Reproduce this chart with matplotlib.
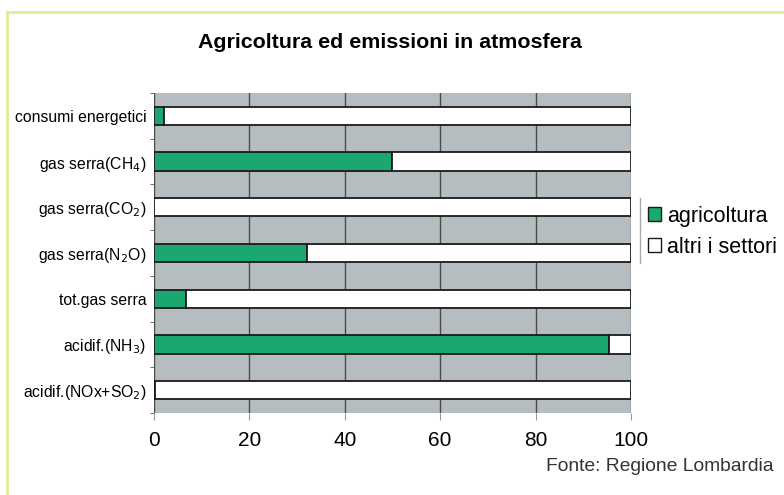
import numpy as np
import matplotlib.pyplot as plt
from matplotlib.lines import Line2D
from matplotlib.patches import Patch

plt.rcParams['font.family'] = ['Liberation Sans', 'DejaVu Sans']

categorie = ['consumi energetici', 'gas serra(CH$_4$)', 'gas serra(CO$_2$)',
             'gas serra(N$_2$O)', 'tot.gas serra', 'acidif.(NH$_3$)',
             'acidif.(NOx+SO$_2$)']
agricoltura = [2, 50, 0, 32, 6.7, 95.5, 0.3]
altri = [100 - v for v in agricoltura]
ticks_x = [0, 20, 40, 60, 80, 100]

verde = '#1aa870'
grigio = '#b5bdc1'

fig = plt.figure(figsize=(7.84, 4.95), dpi=100)
ax = fig.add_axes([0.1964, 0.1657, 0.6084, 0.6465])
ax.set_facecolor(grigio)

y = np.arange(len(categorie))
ax.barh(y, agricoltura, height=0.4, color=verde, edgecolor='#1a1a1a', linewidth=1.3,
        zorder=3)
ax.barh(y, altri, left=agricoltura, height=0.4, color='white', edgecolor='#1a1a1a',
        linewidth=1.3, zorder=3)

ax.set_xlim(0, 100)
ax.set_ylim(len(categorie) - 0.5, -0.5)
ax.set_xticks(ticks_x)
ax.set_xticklabels([str(t) for t in ticks_x], fontsize=15)
ax.set_yticks(y)
ax.set_yticklabels(categorie, fontsize=11.3)
ax.set_yticks(np.arange(len(categorie) + 1) - 0.5, minor=True)
ax.tick_params(axis='y', which='major', length=0, pad=5.5)
ax.tick_params(axis='y', which='minor', length=3, color='#555555')
ax.tick_params(axis='x', length=5, color='#999999', pad=8)
ax.grid(axis='x', color='#4a4a4a', linewidth=1, zorder=1)
for s in ax.spines.values():
    s.set_visible(False)

fig.text(0.497, 0.915, 'Agricoltura ed emissioni in atmosfera', fontsize=15.4,
         fontweight='bold', ha='center', va='center')

fig.text(0.986, 0.057, 'Fonte: Regione Lombardia', fontsize=13.9, ha='right',
         va='center', color='#333333')

handles = [Patch(facecolor=verde, edgecolor='#1a1a1a', label='agricoltura'),
           Patch(facecolor='white', edgecolor='#1a1a1a', label='altri i settori')]
fig.legend(handles=handles, loc='upper left', bbox_to_anchor=(0.826, 0.584),
           frameon=False, fontsize=15.5, handlelength=0.6, handleheight=0.6,
           handletextpad=0.3, labelspacing=0.45, borderaxespad=0, borderpad=0)

fig.add_artist(Line2D([0.816, 0.816], [0.469, 0.6], color='#aaaaaa', linewidth=1,
                      transform=fig.transFigure))

bordo = '#e4ea98'
fig.add_artist(Line2D([0.009, 1.0], [0.976, 0.976], color=bordo, linewidth=2,
                      transform=fig.transFigure))
fig.add_artist(Line2D([0.009, 0.009], [0.0, 0.976], color=bordo, linewidth=2,
                      transform=fig.transFigure))

fig.savefig('out.png', dpi=100)
